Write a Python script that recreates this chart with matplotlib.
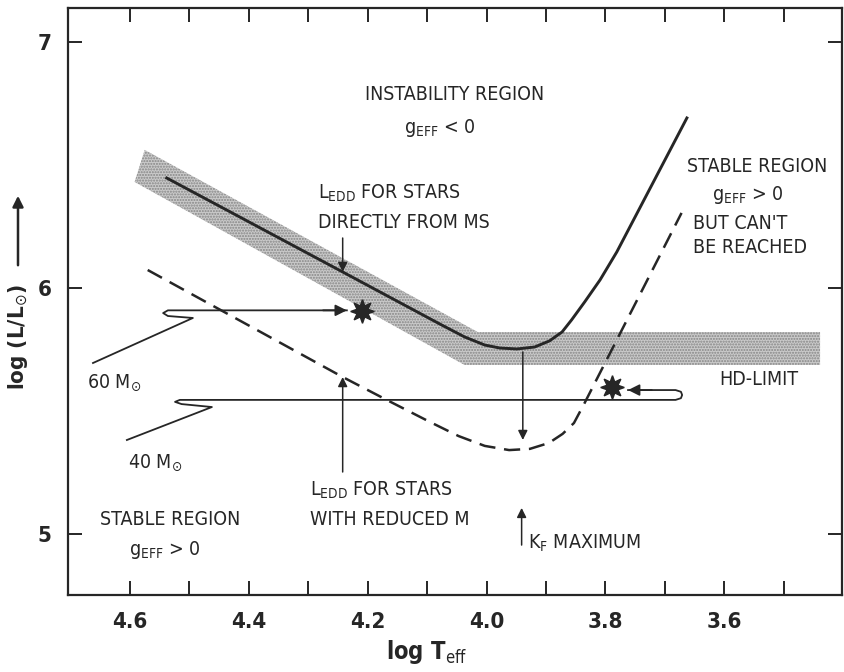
import matplotlib
matplotlib.use('Agg')
import matplotlib.pyplot as plt
from matplotlib.patches import Polygon, FancyArrowPatch

plt.rcParams['font.family'] = ['DejaVu Sans']
plt.rcParams['font.stretch'] = 'condensed'
plt.rcParams['mathtext.fontset'] = 'custom'
plt.rcParams['mathtext.rm'] = 'DejaVu Sans'
plt.rcParams['mathtext.it'] = 'DejaVu Sans'
plt.rcParams['mathtext.bf'] = 'DejaVu Sans:bold'
plt.rcParams['hatch.linewidth'] = 1.0

ink = '#262626'

# L_Edd for stars coming directly from the main sequence (solid)
edd_ms_x = [4.538, 4.242, 4.079, 4.037, 4.003, 3.978, 3.949, 3.919, 3.894,
            3.873, 3.857, 3.835, 3.809, 3.781, 3.663]
edd_ms_y = [6.447, 6.065, 5.854, 5.801, 5.768, 5.756, 5.752, 5.760, 5.785,
            5.821, 5.870, 5.943, 6.033, 6.146, 6.691]

# L_Edd for stars with reduced mass (dashed)
edd_red_x = [4.570, 4.242, 4.168, 4.095, 4.047, 4.003, 3.962, 3.927, 3.895,
             3.872, 3.853, 3.836, 3.672]
edd_red_y = [6.073, 5.638, 5.545, 5.455, 5.398, 5.358, 5.341, 5.346, 5.370,
             5.407, 5.451, 5.528, 6.305]

# shaded HD-limit band
band_x = [4.575, 4.015, 3.439, 3.439, 4.037, 4.592]
band_y = [6.561, 5.821, 5.821, 5.687, 5.687, 6.431]

# evolutionary tracks
trk60_x = [4.662, 4.494, 4.536, 4.544, 4.536, 4.235]
trk60_y = [5.695, 5.878, 5.886, 5.898, 5.909, 5.909]
trk40_x = [4.605, 4.462, 4.513, 4.524, 4.516, 3.682, 3.673, 3.671, 3.673, 3.682, 3.762]
trk40_y = [5.382, 5.516, 5.528, 5.537, 5.545, 5.545, 5.552, 5.565, 5.578, 5.585, 5.585]

# end points (stars)
star_x = [4.210, 3.789]
star_y = [5.907, 5.598]

# vertical pointer arrows: x, y start, y end
arrow_x = [4.242, 4.242, 3.939, 3.941]
arrow_y0 = [6.203, 5.252, 5.740, 4.955]
arrow_y1 = [6.065, 5.638, 5.382, 5.106]

xticks = [4.6, 4.5, 4.4, 4.3, 4.2, 4.1, 4.0, 3.9, 3.8, 3.7, 3.6, 3.5]
xlabels = ['4.6', '', '4.4', '', '4.2', '', '4.0', '', '3.8', '', '3.6', '']
yticks = [5, 6, 7]

fig = plt.figure(figsize=(8.44, 6.72), dpi=100)
ax = fig.add_axes([0.0806, 0.1146, 0.9171, 0.8735])

ax.add_patch(Polygon(list(zip(band_x, band_y)), closed=True,
                     facecolor='#cacaca', edgecolor='#858585', hatch='......',
                     linewidth=0, zorder=1))

ax.plot(edd_ms_x, edd_ms_y, color=ink, lw=2.1, zorder=3)
ax.plot(edd_red_x, edd_red_y, color=ink, lw=1.8, dashes=(6.5, 3.5), zorder=3)
ax.plot(trk60_x, trk60_y, color=ink, lw=1.3, zorder=3)
ax.plot(trk40_x, trk40_y, color=ink, lw=1.3, zorder=3)
ax.plot(star_x, star_y, ls='none', marker=(8, 1, 0), ms=17, color=ink, zorder=4)

# arrow heads on tracks
ax.annotate('', xy=(trk60_x[-1], trk60_y[-1]), xytext=(trk60_x[-1] + 0.04, trk60_y[-1]),
            arrowprops=dict(arrowstyle='-|>', color=ink, lw=1.3, mutation_scale=17,
                            shrinkA=0, shrinkB=0))
ax.annotate('', xy=(trk40_x[-1], trk40_y[-1]), xytext=(trk40_x[-1] - 0.04, trk40_y[-1]),
            arrowprops=dict(arrowstyle='-|>', color=ink, lw=1.3, mutation_scale=17,
                            shrinkA=0, shrinkB=0))
for x, y0, y1 in zip(arrow_x, arrow_y0, arrow_y1):
    ax.annotate('', xy=(x, y1), xytext=(x, y0),
                arrowprops=dict(arrowstyle='-|>', color=ink, lw=1.1, mutation_scale=14,
                                shrinkA=0, shrinkB=0))

fs = 14
kw = dict(color=ink, fontsize=fs)
ax.text(4.053, 6.785, 'INSTABILITY REGION', ha='center', va='center', **kw)
ax.text(4.079, 6.650, r'g$_{\mathrm{EFF}}$ < 0', ha='center', va='center', **kw)
ax.text(4.283, 6.386, r'L$_{\mathrm{EDD}}$ FOR STARS', ha='left', va='center', **kw)
ax.text(4.283, 6.268, 'DIRECTLY FROM MS', ha='left', va='center', **kw)
ax.text(3.545, 6.492, 'STABLE REGION', ha='center', va='center', **kw)
ax.text(3.560, 6.378, r'g$_{\mathrm{EFF}}$ > 0', ha='center', va='center', **kw)
ax.text(3.653, 6.260, "BUT CAN'T", ha='left', va='center', **kw)
ax.text(3.653, 6.163, 'BE REACHED', ha='left', va='center', **kw)
ax.text(3.542, 5.626, 'HD-LIMIT', ha='center', va='center', **kw)
ax.text(4.672, 5.614, r'60 M$_{\odot}$', ha='left', va='center', **kw)
ax.text(4.603, 5.289, r'40 M$_{\odot}$', ha='left', va='center', **kw)
ax.text(4.297, 5.179, r'L$_{\mathrm{EDD}}$ FOR STARS', ha='left', va='center', **kw)
ax.text(4.297, 5.057, 'WITH REDUCED M', ha='left', va='center', **kw)
ax.text(4.650, 5.057, 'STABLE REGION', ha='left', va='center', **kw)
ax.text(4.541, 4.935, r'g$_{\mathrm{EFF}}$ > 0', ha='center', va='center', **kw)
ax.text(3.931, 4.963, r'K$_{\mathrm{F}}$ MAXIMUM', ha='left', va='center', **kw)

ax.set_xlim(4.704, 3.402)
ax.set_ylim(4.752, 7.138)
ax.set_xticks(xticks)
ax.set_xticklabels(xlabels)
ax.set_yticks(yticks)
ax.tick_params(direction='in', length=10, width=1.4, top=True, right=True,
               labelsize=16, pad=12, colors=ink)
for lab in ax.get_xticklabels() + ax.get_yticklabels():
    lab.set_fontweight('bold')
for sp in ax.spines.values():
    sp.set_linewidth(1.6)
    sp.set_color(ink)

fig.text(427 / 844, 1 - 652 / 672, r'log T$_{\mathrm{eff}}$', ha='center', va='center',
         fontsize=17, fontweight='bold', color=ink)
fig.text(18 / 844, 1 - 337 / 672, r'log (L/L$_{\odot}$)', ha='center', va='center',
         rotation=90, fontsize=16, fontweight='bold', color=ink)
fig.patches.append(FancyArrowPatch(
    (18 / 844, 1 - 268 / 672), (18 / 844, 1 - 193 / 672), transform=fig.transFigure,
    arrowstyle='-|>', mutation_scale=16, color=ink, lw=1.8))

fig.savefig('out.png', dpi=100)
